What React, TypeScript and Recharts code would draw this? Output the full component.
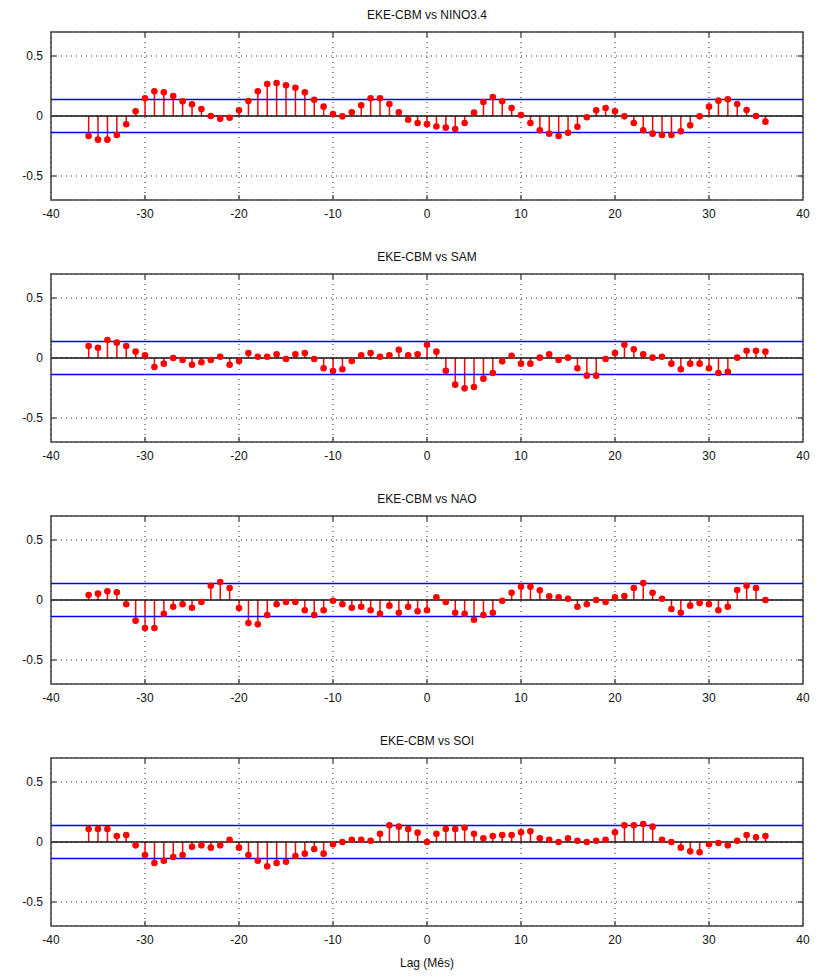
import {
  Bar,
  CartesianGrid,
  ComposedChart,
  Line,
  ReferenceArea,
  ReferenceLine,
  XAxis,
  YAxis,
} from "recharts";

const LAGS = Array.from({ length: 73 }, (_, i) => i - 36);

const NINO34 = [
  -0.167, -0.197, -0.197, -0.158, -0.069, 0.039, 0.147, 0.206, 0.197, 0.167,
  0.122, 0.097, 0.058, 0.0, -0.022, -0.014, 0.047, 0.125, 0.206, 0.267,
  0.275, 0.256, 0.236, 0.197, 0.136, 0.078, 0.017, -0.003, 0.031, 0.089,
  0.147, 0.147, 0.1, 0.031, -0.031, -0.058, -0.068, -0.088, -0.097, -0.108,
  -0.058, 0.028, 0.117, 0.158, 0.122, 0.067, 0.008, -0.058, -0.119, -0.147,
  -0.167, -0.139, -0.089, -0.011, 0.047, 0.067, 0.039, -0.003, -0.058, -0.119,
  -0.147, -0.158, -0.158, -0.128, -0.078, -0.003, 0.078, 0.128, 0.139, 0.1,
  0.05, 0.0, -0.047,
];

const SAM = [
  0.1, 0.086, 0.15, 0.128, 0.1, 0.053, 0.022, -0.075, -0.047, 0.0,
  -0.017, -0.056, -0.036, -0.017, 0.011, -0.056, -0.025, 0.042, 0.011, 0.011,
  0.031, -0.008, 0.031, 0.042, -0.008, -0.086, -0.108, -0.094, -0.025, 0.022,
  0.042, 0.011, 0.022, 0.069, 0.022, 0.031, 0.111, 0.053, -0.106, -0.222,
  -0.253, -0.242, -0.172, -0.125, -0.028, 0.019, -0.047, -0.047, 0.003, 0.031,
  -0.017, 0.003, -0.086, -0.147, -0.147, -0.008, 0.042, 0.111, 0.072, 0.031,
  0.003, 0.011, -0.047, -0.094, -0.047, -0.047, -0.086, -0.125, -0.114, 0.003,
  0.061, 0.061, 0.053,
];

const NAO = [
  0.042, 0.053, 0.072, 0.064, -0.036, -0.172, -0.233, -0.233, -0.114, -0.056,
  -0.036, -0.064, -0.017, 0.119, 0.15, 0.1, -0.067, -0.192, -0.203, -0.125,
  -0.036, -0.017, -0.017, -0.086, -0.125, -0.086, -0.006, -0.036, -0.064, -0.056,
  -0.086, -0.114, -0.047, -0.106, -0.056, -0.094, -0.086, 0.022, -0.017, -0.106,
  -0.114, -0.164, -0.125, -0.106, -0.006, 0.061, 0.111, 0.111, 0.081, 0.031,
  0.022, 0.011, -0.056, -0.036, 0.0, -0.017, 0.022, 0.033, 0.1, 0.142,
  0.061, 0.011, -0.075, -0.106, -0.047, -0.025, -0.036, -0.086, -0.056, 0.083,
  0.119, 0.1, 0.0,
];

const SOI = [
  0.108, 0.108, 0.108, 0.05, 0.058, -0.028, -0.108, -0.175, -0.156, -0.125,
  -0.108, -0.039, -0.028, -0.047, -0.028, 0.019, -0.047, -0.108, -0.156, -0.203,
  -0.175, -0.164, -0.117, -0.097, -0.058, -0.097, -0.019, 0.0, 0.019, 0.019,
  0.011, 0.069, 0.139, 0.128, 0.108, 0.078, 0.0, 0.069, 0.108, 0.108,
  0.119, 0.069, 0.031, 0.05, 0.058, 0.058, 0.081, 0.089, 0.031, 0.019,
  0.0, 0.031, 0.011, 0.0, 0.011, 0.019, 0.081, 0.139, 0.139, 0.15,
  0.128, 0.019, 0.0, -0.047, -0.078, -0.086, -0.019, -0.008, -0.028, 0.011,
  0.058, 0.039, 0.05,
];

const PANELS = [
  { title: "EKE-CBM vs NINO3.4", values: NINO34 },
  { title: "EKE-CBM vs SAM", values: SAM },
  { title: "EKE-CBM vs NAO", values: NAO },
  { title: "EKE-CBM vs SOI", values: SOI },
];

const CONF_LIMIT = 0.137;
const X_TICKS = [-40, -30, -20, -10, 0, 10, 20, 30, 40];
const Y_TICKS = [-0.5, 0, 0.5];
const X_DOMAIN: [number, number] = [-40, 40];
const Y_DOMAIN: [number, number] = [-0.7, 0.7];

const FONT = '"Liberation Sans", Arial, Helvetica, sans-serif';
const FRAME = "#404040";
const STEM = "#ff0000";
const PANEL_STEP = 242;
const CHART_W = 832;
const CHART_H = 242;

// inward tick mark lengths in data units (~5px)
const TICK_DX = 0.55;
const TICK_DY = 0.042;

function StemPanel({ title, values, top }: { title: string; values: number[]; top: number }) {
  const data = LAGS.map((lag, i) => ({ lag, value: values[i] }));
  const innerX = X_TICKS.slice(1, -1);
  return (
    <div style={{ position: "absolute", left: 0, top, width: CHART_W, height: CHART_H }}>
      <div
        style={{
          position: "absolute",
          left: 51,
          width: 752,
          top: 8,
          textAlign: "center",
          fontFamily: FONT,
          fontSize: 12,
          color: "#111",
          lineHeight: "14px",
        }}
      >
        {title}
      </div>
      <ComposedChart
        width={CHART_W}
        height={CHART_H}
        data={data}
        margin={{ top: 32, right: 29, bottom: 0, left: 0 }}
      >
        <CartesianGrid stroke="#222" strokeDasharray="1 4" />
        <XAxis
          dataKey="lag"
          type="number"
          domain={X_DOMAIN}
          ticks={X_TICKS}
          allowDataOverflow
          height={42}
          axisLine={false}
          tickLine={false}
          tickSize={0}
          tickMargin={9}
          tick={{ fontSize: 12, fill: "#111", fontFamily: FONT }}
        />
        <YAxis
          type="number"
          domain={Y_DOMAIN}
          ticks={Y_TICKS}
          allowDataOverflow
          width={51}
          axisLine={false}
          tickLine={false}
          tickSize={0}
          tickMargin={8}
          tickFormatter={(v: number) => String(v)}
          tick={{ fontSize: 12, fill: "#111", fontFamily: FONT }}
        />
        <ReferenceLine y={CONF_LIMIT} stroke="#0000ff" strokeWidth={1.4} />
        <ReferenceLine y={-CONF_LIMIT} stroke="#0000ff" strokeWidth={1.4} />
        <ReferenceLine y={0} stroke="#111" strokeWidth={1.3} />
        {innerX.map((x) => (
          <ReferenceLine
            key={`b${x}`}
            segment={[
              { x, y: Y_DOMAIN[0] },
              { x, y: Y_DOMAIN[0] + TICK_DY },
            ]}
            stroke={FRAME}
            strokeWidth={1.3}
          />
        ))}
        {innerX.map((x) => (
          <ReferenceLine
            key={`t${x}`}
            segment={[
              { x, y: Y_DOMAIN[1] },
              { x, y: Y_DOMAIN[1] - TICK_DY },
            ]}
            stroke={FRAME}
            strokeWidth={1.3}
          />
        ))}
        {Y_TICKS.map((y) => (
          <ReferenceLine
            key={`l${y}`}
            segment={[
              { x: X_DOMAIN[0], y },
              { x: X_DOMAIN[0] + TICK_DX, y },
            ]}
            stroke={FRAME}
            strokeWidth={1.3}
          />
        ))}
        {Y_TICKS.map((y) => (
          <ReferenceLine
            key={`r${y}`}
            segment={[
              { x: X_DOMAIN[1], y },
              { x: X_DOMAIN[1] - TICK_DX, y },
            ]}
            stroke={FRAME}
            strokeWidth={1.3}
          />
        ))}
        <ReferenceArea
          x1={X_DOMAIN[0]}
          x2={X_DOMAIN[1]}
          y1={Y_DOMAIN[0]}
          y2={Y_DOMAIN[1]}
          fill="none"
          stroke={FRAME}
          strokeWidth={1.5}
        />
        <Bar dataKey="value" barSize={1.5} fill={STEM} isAnimationActive={false} />
        <Line
          dataKey="value"
          stroke="none"
          dot={{ r: 3.3, fill: STEM, stroke: "none" }}
          activeDot={false}
          isAnimationActive={false}
        />
      </ComposedChart>
    </div>
  );
}

export default function App() {
  return (
    <div
      style={{
        position: "absolute",
        left: 0,
        top: 0,
        width: 832,
        height: 977,
        background: "#fff",
      }}
    >
      {PANELS.map((p, i) => (
        <StemPanel key={p.title} title={p.title} values={p.values} top={i * PANEL_STEP} />
      ))}
      <div
        style={{
          position: "absolute",
          left: 51,
          width: 752,
          top: 955,
          textAlign: "center",
          fontFamily: FONT,
          fontSize: 12,
          color: "#111",
          lineHeight: "16px",
        }}
      >
        Lag (Mês)
      </div>
    </div>
  );
}
